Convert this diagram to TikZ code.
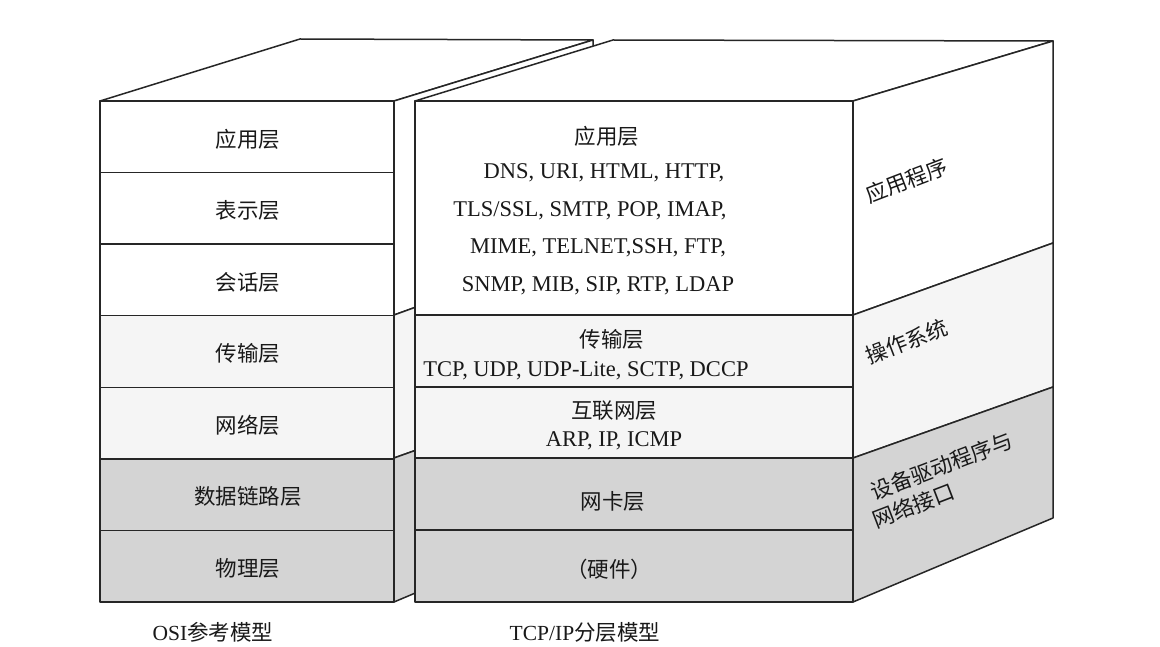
\documentclass[tikz,border=0pt]{standalone}
\usepackage{fontspec}
\setmainfont{Liberation Serif}
\newfontfamily\cjk{Noto Sans CJK SC}
\tikzset{
  edge/.style={line width=1.5pt,line join=round,draw=black!85},
  lite/.style={fill=black!4},
  dark/.style={fill=black!17},
  zh/.style={font=\cjk\fontsize{21.5}{25}\selectfont,text=black!90,inner sep=0pt},
  en/.style={font=\fontsize{22.5}{25}\selectfont,text=black!90,inner sep=0pt},
  side/.style={zh,rotate=21,anchor=west},
}
\begin{document}
\begin{tikzpicture}[x=1pt,y=-1pt]
  \useasboundingbox[fill=white] (0,0) rectangle (1160,647);
  % OSI block
  \draw[edge,fill=white] (100,101) -- (300,39) -- (593,40) -- (394,101) -- cycle;
  \draw[edge,fill=white] (394,101) -- (593,40) -- (593,243) -- (394,315) -- cycle;
  \draw[edge,lite] (394,315) -- (593,243) -- (593,387) -- (394,458) -- cycle;
  \draw[edge,dark] (394,458) -- (593,387) -- (593,518) -- (394,602) -- cycle;
  \foreach \lab/\col [count=\i from 0] in {应用层/white,表示层/white,会话层/white,
      传输层/black!4,网络层/black!4,数据链路层/black!17,物理层/black!17} {
    \draw[edge,fill=\col] (100,{101+71.57*\i}) rectangle (394,{172.57+71.57*\i});
    \node[zh] (osi\i) at (248,{139+71.57*\i}) {\lab};
  }
  \node[zh] (osicap) at (213,632) {{\rmfamily OSI}参考模型};
  % TCP/IP block
  \draw[edge,fill=white] (415,101) -- (613,40) -- (1053,41) -- (853,101) -- cycle;
  \draw[edge,fill=white] (853,101) -- (1053,41) -- (1053,243) -- (853,315) -- cycle;
  \draw[edge,lite] (853,315) -- (1053,243) -- (1053,387) -- (853,458) -- cycle;
  \draw[edge,dark] (853,458) -- (1053,387) -- (1053,518) -- (853,602) -- cycle;
  \draw[edge,fill=white] (415,101) rectangle (853,315);
  \draw[edge,lite] (415,315) rectangle (853,387);
  \draw[edge,lite] (415,387) rectangle (853,458);
  \draw[edge,dark] (415,458) rectangle (853,530);
  \draw[edge,dark] (415,530) rectangle (853,602);
  \node[zh] (app) at (607,136) {应用层};
  \node[en] (app1) at (604,173) {DNS, URI, HTML, HTTP,};
  \node[en] (app2) at (590,211) {TLS/SSL, SMTP, POP, IMAP,};
  \node[en] (app3) at (598,248) {MIME, TELNET,SSH, FTP,};
  \node[en] (app4) at (598,286) {SNMP, MIB, SIP, RTP, LDAP};
  \node[zh] (trans) at (612,339) {传输层};
  \node[en] (trans1) at (586,371) {TCP, UDP, UDP-Lite, SCTP, DCCP};
  \node[zh] (inet) at (614,411) {互联网层};
  \node[en] (inet1) at (614,441) {ARP, IP, ICMP};
  \node[zh] (nic) at (613,501) {网卡层};
  \node[zh] (hw) at (609,569) {（硬件）};
  \node[zh] (tcpcap) at (585,632) {{\rmfamily TCP/IP}分层模型};
  % right face
  \node[side] (prog) at (866,196) {应用程序};
  \node[side] (os) at (866,357) {操作系统};
  \node[side] (drv1) at (871,493) {设备驱动程序与};
  \node[side] (drv2) at (873,521) {网络接口};
\end{tikzpicture}
\end{document}
